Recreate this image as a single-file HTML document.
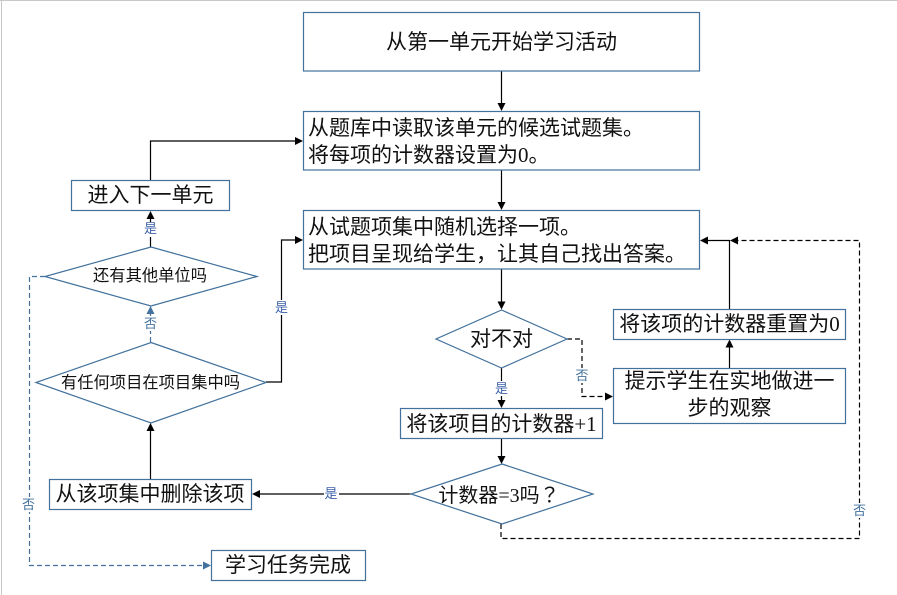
<!DOCTYPE html>
<html><head><meta charset="utf-8"><style>
html,body{margin:0;padding:0;background:#fff;width:897px;height:595px;overflow:hidden}
svg{display:block}
text{font-family:"Liberation Serif","Noto Sans CJK SC",sans-serif;fill:#111}
.b{fill:#fff;stroke:#41719c;stroke-width:1.2}
.t{font-size:21px}
.s{font-size:16.300px}
.l{font-size:13px;text-anchor:middle}
.y{fill:#3a5fa8}.n{fill:#41719c}
.c{fill:none;stroke:#000;stroke-width:1.2}
.d{fill:none;stroke:#000;stroke-width:1.2;stroke-dasharray:5 3}
.e{fill:none;stroke:#41719c;stroke-width:1.2;stroke-dasharray:5 3}
.m{text-anchor:middle}
</style></head><body>
<svg width="897" height="595" viewBox="0 0 897 595" xmlns="http://www.w3.org/2000/svg">
<rect x="0" y="0" width="897" height="1" fill="#c8c8c8"/>
<rect x="1" y="0" width="1" height="595" fill="#c8c8c8"/>

<!-- connectors -->
<path class="c" d="M501.5 71V104M501.5 170V203M501.5 269V303M501.5 368V402M501.5 438V457"/>
<path class="c" d="M150.5 180V141H296"/>
<path class="c" d="M150.5 247V218"/>
<path class="c" d="M150.5 479V430"/>
<path class="c" d="M266 382H281.5V240H296"/>
<path class="c" d="M411 494H259"/>
<path class="c" d="M729.5 368.5V346"/>
<path class="c" d="M729.5 309V240.5H706"/>
<path class="d" d="M567 339H582V396.5H606"/>
<path class="d" d="M501 524V538.5H859.5V240.5H738"/>
<path class="e" d="M45 276.5H29.5V565.5H204"/>
<path class="e" d="M150.5 342V314"/>

<!-- arrowheads -->
<g fill="#000">
<path d="M501.5 111l-4-8h8z"/><path d="M501.5 210l-4-8h8z"/><path d="M501.5 309.500l-4-8h8z"/><path d="M501.5 408l-4-8h8z"/><path d="M501.5 464l-4-8h8z"/>
<path d="M303 141l-8-4v8z"/><path d="M303 240l-8-4v8z"/><path d="M613 396.5l-8-4v8z"/>
<path d="M150.500 211l-4 8h8z"/><path d="M150.500 423l-4 8h8z"/><path d="M729.500 339.500l-4 8h8z"/>
<path d="M252 494l8-4v8z"/><path d="M700 240.500l8-4v8z"/><path d="M730 240.500l8-4v8z"/>
</g>
<g fill="#41719c">
<path d="M211 565.500l-8-4v8z"/><path d="M150.500 306l-4 8h8z"/>
</g>

<!-- boxes -->
<rect class="b" x="303.500" y="12.500" width="396" height="58.500"/>
<rect class="b" x="303.500" y="111.500" width="396" height="58.500"/>
<rect class="b" x="303.500" y="210.500" width="396" height="58.500"/>
<rect class="b" x="71.500" y="180.500" width="158" height="30"/>
<rect class="b" x="49.500" y="479.500" width="202" height="30"/>
<rect class="b" x="211.500" y="550.500" width="154" height="30"/>
<rect class="b" x="400.500" y="408.500" width="202" height="30"/>
<rect class="b" x="613.500" y="309.500" width="232" height="30"/>
<rect class="b" x="613.500" y="368.500" width="232" height="55"/>

<!-- diamonds -->
<polygon class="b" points="151,247 257,276.500 151,306 45,276.500"/>
<polygon class="b" points="151,342.500 266,382.500 151,423 36,382.500"/>
<polygon class="b" points="501.500,310 567,339 501.500,368 436,339"/>
<polygon class="b" points="502,464 593,494 502,524 411,494"/>

<!-- text -->
<text class="t m" x="501.500" y="49">从第一单元开始学习活动</text>
<text class="t" x="308" y="135">从题库中读取该单元的候选试题集。</text>
<text class="t" x="308" y="162">将每项的计数器设置为0。</text>
<text class="t" x="308" y="234">从试题项集中随机选择一项。</text>
<text class="t" x="308" y="261">把项目呈现给学生，让其自己找出答案。</text>
<text class="t m" x="150.500" y="202">进入下一单元</text>
<text class="s m" x="150" y="281">还有其他单位吗</text>
<text class="s m" x="150.500" y="388">有任何项目在项目集中吗</text>
<text class="t m" x="150" y="501">从该项集中删除该项</text>
<text class="t m" x="288" y="572">学习任务完成</text>
<text class="t m" x="501.500" y="346">对不对</text>
<text class="t m" x="501.500" y="431">将该项目的计数器+1</text>
<text class="t m" x="499" y="502" style="font-size:20px">计数器=3吗<tspan style="font-family:'Noto Sans CJK TC',sans-serif">？</tspan></text>
<text class="t m" x="729.500" y="331">将该项的计数器重置为0</text>
<text class="t m" x="729.500" y="388">提示学生在实地做进一</text>
<text class="t m" x="729.500" y="415">步的观察</text>

<!-- labels -->
<g>
<rect x="143" y="222" width="15" height="15" fill="#fff"/>
<text class="l y" x="150.500" y="233">是</text>
<rect x="143" y="316" width="15" height="15" fill="#fff"/>
<text class="l n" x="150.500" y="328">否</text>
<rect x="274" y="300" width="15" height="15" fill="#fff"/>
<text class="l y" x="281.500" y="312">是</text>
<rect x="21" y="497" width="15" height="15" fill="#fff"/>
<text class="l n" x="28.500" y="509">否</text>
<rect x="324" y="486" width="15" height="15" fill="#fff"/>
<text class="l y" x="331" y="498">是</text>
<rect x="494" y="381" width="15" height="15" fill="#fff"/>
<text class="l y" x="501.500" y="393">是</text>
<rect x="575" y="368" width="15" height="15" fill="#fff"/>
<text class="l n" x="582" y="380">否</text>
<rect x="852" y="503" width="15" height="15" fill="#fff"/>
<text class="l n" x="859.500" y="515">否</text>
</g>
</svg>
</body></html>
